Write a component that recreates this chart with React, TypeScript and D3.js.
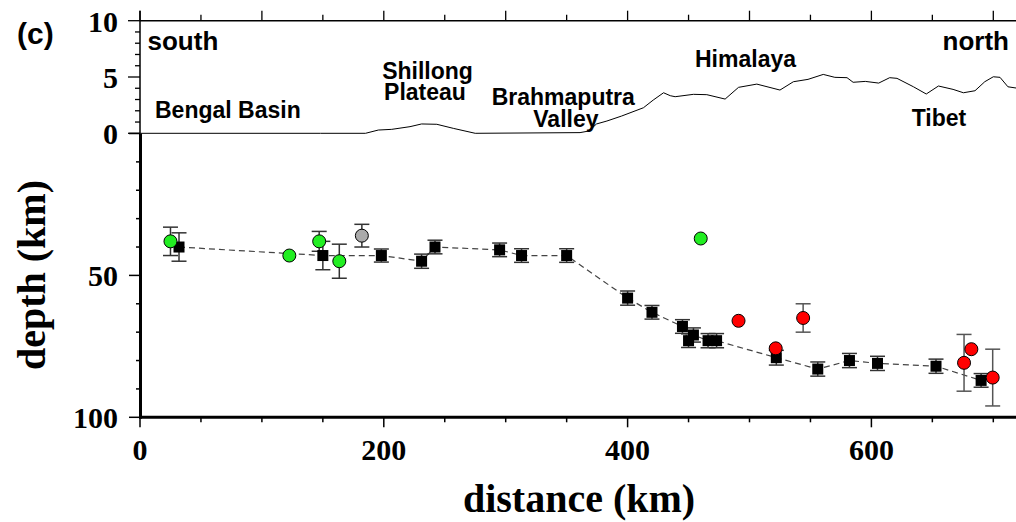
import React from "react";
import * as d3 from "d3";

// Topography (elevation in km vs distance in km)
const topoDist = [0, 148, 185, 195.5, 206.5, 221.5, 231, 243.5, 257, 275, 361, 368, 374.5, 383, 395, 413, 421, 429.5, 435, 439, 454, 465, 480, 491, 506, 525, 536, 548, 560.5, 570, 580, 585, 595, 606, 615, 621, 634.5, 645, 655, 667, 675.5, 685, 693, 700, 705.5, 712, 720];
const topoElev = [0, 0, 0, 0.29, 0.35, 0.59, 0.83, 0.8, 0.44, 0, 0.06, 0.2, 0.83, 1.09, 1.53, 2.27, 2.95, 3.6, 3.34, 3.25, 3.46, 3.43, 3.04, 4.08, 4.37, 3.84, 4.58, 4.79, 5.23, 4.97, 4.94, 4.53, 4.61, 4.46, 4.94, 4.88, 4.13, 3.49, 4.2, 3.9, 3.6, 3.78, 4.58, 5.02, 4.97, 4.13, 4.0];

// Black squares (Moho depth, connected by dashed line)
const squareDist = [32, 150, 198, 231, 242, 295, 313, 350, 400, 420, 445, 450, 454, 466, 473, 522, 556, 582, 605, 653, 690];
const squareDepth = [40, 43, 43, 45, 40, 41, 43, 43, 58, 63, 68, 73, 71, 73, 73, 79, 83, 80, 81, 82, 87];
const squareErr = [5, 5, 2.3, 2.5, 2.4, 2.4, 2.4, 2.4, 2.5, 2.4, 2.4, 2.4, 2.5, 2.5, 2.5, 2.6, 2.5, 2.5, 2.5, 2.5, 2.4];

// Green circles
const greenDist = [25, 122.5, 147, 163.5, 460];
const greenDepth = [38, 43, 38, 45, 37];
const greenErr = [5, 0, 3.5, 6, 0];

// Gray circle
const grayDist = [182];
const grayDepth = [36];
const grayErr = [4];

// Red circles
const redDist = [491, 521.5, 544, 676, 682, 699.5];
const redDepth = [66, 75.7, 65, 80.8, 76, 86];
const redErr = [0, 0, 5, 10, 0, 10];

const elevTicks = d3.range(0, 11, 1);
const elevLabels = [0, 5, 10];
const depthTicks = d3.range(0, 101, 10);
const depthLabels = [50, 100];
const distTicks = d3.range(0, 751, 50);
const distLabels = [0, 200, 400, 600];

const SANS = "'Liberation Sans', Arial, Helvetica, sans-serif";
const SERIF = "'Liberation Serif', 'Times New Roman', serif";

export default function App() {
  const W = 1016;
  const H = 522;
  const x = d3.scaleLinear().domain([0, 720]).range([140, 140 + 720 * 1.219]);
  const ye = d3.scaleLinear().domain([0, 10]).range([133.3, 20.7]);
  const yd = d3.scaleLinear().domain([0, 100]).range([133.5, 417.3]);

  const topoLine = d3
    .line<number>()
    .x((_, i) => x(topoDist[i]))
    .y((e) => ye(e))(topoElev);

  const sqLine = d3
    .line<number>()
    .x((_, i) => x(squareDist[i]))
    .y((z) => yd(z))(squareDepth);

  const errBars = (dist: number[], depth: number[], err: number[], color: string, key: string) =>
    dist.map((d, i) =>
      err[i] > 0 ? (
        <g key={key + i} stroke={color} strokeWidth={1.5}>
          <line x1={x(d)} x2={x(d)} y1={yd(depth[i] - err[i])} y2={yd(depth[i] + err[i])} />
          <line x1={x(d) - 7.5} x2={x(d) + 7.5} y1={yd(depth[i] - err[i])} y2={yd(depth[i] - err[i])} />
          <line x1={x(d) - 7.5} x2={x(d) + 7.5} y1={yd(depth[i] + err[i])} y2={yd(depth[i] + err[i])} />
        </g>
      ) : null
    );

  const circles = (dist: number[], depth: number[], fill: string, key: string) =>
    dist.map((d, i) => (
      <circle key={key + i} cx={x(d)} cy={yd(depth[i])} r={6.5} fill={fill} stroke="#000" strokeWidth={1} />
    ));

  const x0 = 140;
  const xR = x(720);

  return (
    <svg
      width={W}
      height={H}
      viewBox={`0 0 ${W} ${H}`}
      style={{ position: "absolute", left: 0, top: 0, background: "#fff" }}
    >
      <rect x={0} y={0} width={W} height={H} fill="#fff" />

      {/* topography */}
      <path d={topoLine || ""} fill="none" stroke="#000" strokeWidth={1} />

      {/* top axis */}
      <line x1={x0} x2={xR} y1={ye(10)} y2={ye(10)} stroke="#000" strokeWidth={1.5} />
      {distTicks.map((t) => (
        <line
          key={"tt" + t}
          x1={x(t)}
          x2={x(t)}
          y1={ye(10)}
          y2={ye(10) - (t % 100 === 0 ? 10 : 6)}
          stroke="#000"
          strokeWidth={1.3}
        />
      ))}

      {/* left elevation axis */}
      <line x1={x0} x2={x0} y1={ye(10) - 10} y2={ye(0)} stroke="#000" strokeWidth={1.5} />
      {elevTicks.map((t) => (
        <line
          key={"et" + t}
          x1={x0}
          x2={x0 - (t % 5 === 0 ? 12 : 5)}
          y1={ye(t)}
          y2={ye(t)}
          stroke="#000"
          strokeWidth={1.3}
        />
      ))}
      {elevLabels.map((t) => (
        <text
          key={"el" + t}
          x={118}
          y={ye(t) + 11}
          textAnchor="end"
          fontFamily={SERIF}
          fontWeight="bold"
          fontSize={30}
        >
          {t}
        </text>
      ))}

      {/* left depth axis */}
      <line x1={x0 + 0.5} x2={x0 + 0.5} y1={yd(0)} y2={yd(100) + 1.5} stroke="#000" strokeWidth={3} />
      {depthTicks.map((t) => (
        <line
          key={"dt" + t}
          x1={x0}
          x2={x0 - (t % 50 === 0 ? 11 : 4)}
          y1={yd(t)}
          y2={yd(t)}
          stroke="#000"
          strokeWidth={1.5}
        />
      ))}
      {depthLabels.map((t) => (
        <text
          key={"dl" + t}
          x={118}
          y={yd(t) + 11}
          textAnchor="end"
          fontFamily={SERIF}
          fontWeight="bold"
          fontSize={30}
        >
          {t}
        </text>
      ))}

      {/* bottom axis */}
      <line x1={x0 - 1} x2={xR} y1={yd(100)} y2={yd(100)} stroke="#000" strokeWidth={3} />
      {distTicks.map((t) => (
        <line
          key={"bt" + t}
          x1={x(t)}
          x2={x(t)}
          y1={yd(100)}
          y2={yd(100) + (t % 200 === 0 ? 10 : 5)}
          stroke="#000"
          strokeWidth={1.5}
        />
      ))}
      {distLabels.map((t) => (
        <text
          key={"bl" + t}
          x={x(t)}
          y={459.5}
          textAnchor="middle"
          fontFamily={SERIF}
          fontWeight="bold"
          fontSize={30}
        >
          {t}
        </text>
      ))}

      {/* axis titles */}
      <text
        transform="translate(44.5,275) rotate(-90)"
        textAnchor="middle"
        fontFamily={SERIF}
        fontWeight="bold"
        fontSize={40}
      >
        depth (km)
      </text>
      <text x={579} y={511.5} textAnchor="middle" fontFamily={SERIF} fontWeight="bold" fontSize={40}>
        distance (km)
      </text>

      {/* region labels */}
      <g fontFamily={SANS} fontWeight="bold" fill="#000">
        <text x={17} y={43.5} fontSize={30}>(c)</text>
        <text x={147.5} y={50} fontSize={26}>south</text>
        <text x={1009} y={50} fontSize={26} textAnchor="end">north</text>
        <text x={155} y={118.3} fontSize={23}>Bengal Basin</text>
        <text fontSize={23} textAnchor="middle">
          <tspan x={427.5} y={79}>Shillong</tspan>
          <tspan x={425} y={99.5}>Plateau</tspan>
        </text>
        <text fontSize={23}>
          <tspan x={491.7} y={105}>Brahmaputra</tspan>
          <tspan x={533.3} y={126.9}>Valley</tspan>
        </text>
        <text x={695} y={66.7} fontSize={23}>Himalaya</text>
        <text x={911.7} y={125.7} fontSize={23}>Tibet</text>
      </g>

      {/* dashed Moho line */}
      <path d={sqLine || ""} fill="none" stroke="#444" strokeWidth={1.2} strokeDasharray="6,4" />

      {/* error bars */}
      {errBars(squareDist, squareDepth, squareErr, "#333", "se")}
      {errBars(greenDist, greenDepth, greenErr, "#333", "ge")}
      {errBars(grayDist, grayDepth, grayErr, "#333", "ye")}
      {errBars(redDist, redDepth, redErr, "#555", "re")}

      {/* squares */}
      {squareDist.map((d, i) => (
        <rect key={"sq" + i} x={x(d) - 5.5} y={yd(squareDepth[i]) - 5.5} width={11} height={11} fill="#000" />
      ))}

      {/* circles */}
      {circles(greenDist, greenDepth, "#22ee22", "gc")}
      {circles(grayDist, grayDepth, "#aaaaaa", "yc")}
      {circles(redDist, redDepth, "#ff0000", "rc")}
    </svg>
  );
}
